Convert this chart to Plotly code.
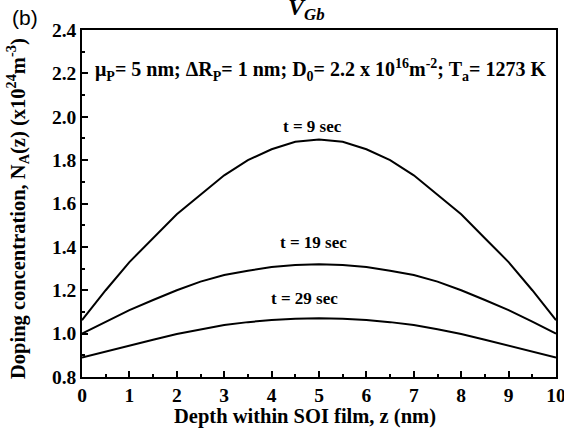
import plotly.graph_objects as go

# Data
z = [0, 0.5, 1, 1.5, 2, 2.5, 3, 3.5, 4, 4.5, 5, 5.5, 6, 6.5, 7, 7.5, 8, 8.5, 9, 9.5, 10]
n_t9 = [1.062, 1.20, 1.33, 1.44, 1.55, 1.64, 1.73, 1.80, 1.85, 1.885, 1.895,
        1.885, 1.85, 1.80, 1.73, 1.64, 1.55, 1.44, 1.33, 1.20, 1.062]
n_t19 = [1.0, 1.055, 1.108, 1.155, 1.20, 1.24, 1.27, 1.29, 1.307, 1.317, 1.32,
         1.317, 1.307, 1.29, 1.27, 1.24, 1.20, 1.155, 1.108, 1.055, 1.0]
n_t29 = [0.890, 0.918, 0.945, 0.972, 0.998, 1.02, 1.04, 1.053, 1.063, 1.069, 1.071,
         1.069, 1.063, 1.053, 1.04, 1.02, 0.998, 0.972, 0.945, 0.918, 0.890]
series = [("t = 9 sec", n_t9), ("t = 19 sec", n_t19), ("t = 29 sec", n_t29)]
label_pos = [(4.86, 1.956), (4.88, 1.418), (4.70, 1.16)]

x_ticks = list(range(0, 11))
y_ticks = [0.8, 1.0, 1.2, 1.4, 1.6, 1.8, 2.0, 2.2, 2.4]

SERIF = "Liberation Serif"
W, H = 564, 430
L, R, T, B = 82, 8, 30, 53
pw, ph = W - L - R, H - T - B

def px(x):
    return (x - L) / pw

def py(y):
    return (H - B - y) / ph

def note(xp, yp, text, font, **kw):
    fig.add_annotation(x=px(xp), y=py(yp), xref="paper", yref="paper", text=text,
                       showarrow=False, xanchor="center", yanchor="middle", font=font, **kw)

fig = go.Figure()
for name, vals in series:
    fig.add_trace(go.Scatter(x=z, y=vals, mode="lines", name=name,
                             line=dict(color="black", width=2), showlegend=False))

for (name, _), (lx, ly) in zip(series, label_pos):
    fig.add_annotation(x=lx, y=ly, xref="x", yref="y", text=name, showarrow=False,
                       xanchor="center", yanchor="middle",
                       font=dict(family=SERIF, size=17, color="black", weight="bold"))

note(320, 70,
     "\u03bc<sub>P</sub>= 5 nm; \u0394R<sub>P</sub>= 1 nm; D<sub>0</sub>= 2.2 x 10<sup>16</sup>m<sup>-2</sup>; T<sub>a</sub>= 1273 K",
     dict(family=SERIF, size=20, color="black", weight="bold"))

note(18, 209,
     "Doping concentration, N<sub>A</sub>(z) (x10<sup>24</sup>m<sup>-3</sup>)",
     dict(family=SERIF, size=20.5, color="black", weight="bold"), textangle=-90)

note(305, 416, "Depth within SOI film, z (nm)",
     dict(family=SERIF, size=20.5, color="black", weight="bold"))

note(25, 17, "(b)", dict(family="Liberation Sans", size=21, color="black"))

note(306, 9, "<i>V<sub>Gb</sub></i>", dict(family=SERIF, size=24, color="black", weight="bold"))

axis_common = dict(showline=True, linecolor="black", linewidth=1.5, mirror=True,
                   ticks="inside", ticklen=6, tickwidth=1.5, tickcolor="black",
                   showgrid=False, zeroline=False, automargin=False,
                   tickfont=dict(family=SERIF, size=19.5, color="black", weight="bold"))

fig.update_xaxes(range=[0, 10], tickvals=x_ticks, ticktext=[str(v) for v in x_ticks],
                 ticklabeloverflow="allow",
                 minor=dict(ticks="inside", ticklen=3, tickwidth=1.5, dtick=0.5, tickcolor="black"),
                 **axis_common)
fig.update_yaxes(range=[0.8, 2.4], tickvals=y_ticks, ticktext=[f"{v:.1f}" for v in y_ticks],
                 minor=dict(ticks="inside", ticklen=3, tickwidth=1.5, dtick=0.1, tickcolor="black"),
                 **axis_common)

fig.update_layout(width=W, height=H, margin=dict(l=L, r=R, t=T, b=B, autoexpand=False),
                  paper_bgcolor="white", plot_bgcolor="white")

fig.write_html("out.html", config={"displayModeBar": False},
               post_script="document.body.style.margin='0';document.body.style.overflow='hidden';")
